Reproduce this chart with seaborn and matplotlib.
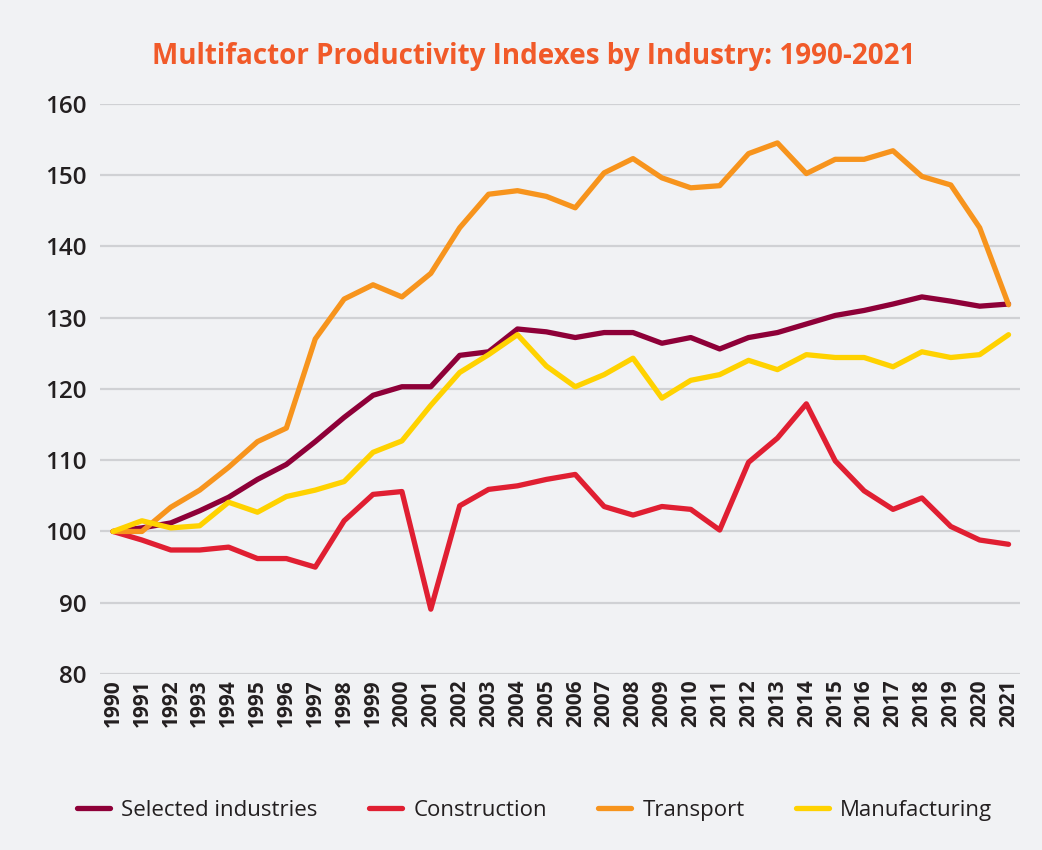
import pandas as pd
import matplotlib
matplotlib.use('Agg')
import matplotlib.pyplot as plt
import seaborn as sns

years = list(range(1990, 2022))

selected = [100, 100.5, 101.2, 102.9, 104.8, 107.3, 109.4, 112.6, 116.0, 119.1,
            120.3, 120.3, 124.7, 125.2, 128.4, 128.0, 127.2, 127.9, 127.9, 126.4,
            127.2, 125.6, 127.2, 127.9, 129.1, 130.3, 131.0, 131.9, 132.9, 132.3,
            131.6, 131.9]
construction = [100, 98.8, 97.4, 97.4, 97.8, 96.2, 96.2, 95.0, 101.5, 105.2,
                105.6, 89.1, 103.6, 105.9, 106.4, 107.3, 108.0, 103.5, 102.3, 103.5,
                103.1, 100.2, 109.7, 113.1, 117.9, 109.9, 105.7, 103.1, 104.7, 100.7,
                98.8, 98.2]
transport = [100, 100, 103.4, 105.8, 109.0, 112.6, 114.5, 127.0, 132.6, 134.6,
             132.9, 136.2, 142.6, 147.3, 147.8, 147.0, 145.4, 150.3, 152.3, 149.6,
             148.2, 148.5, 153.0, 154.5, 150.2, 152.2, 152.2, 153.4, 149.8, 148.6,
             142.6, 131.8]
manufacturing = [100, 101.5, 100.5, 100.8, 104.1, 102.7, 104.9, 105.8, 107.0, 111.1,
                 112.7, 117.7, 122.3, 124.8, 127.6, 123.2, 120.3, 122.0, 124.3, 118.7,
                 121.2, 122.0, 124.0, 122.7, 124.8, 124.4, 124.4, 123.1, 125.2, 124.4,
                 124.8, 127.6]

series_names = ['Selected industries', 'Construction', 'Transport', 'Manufacturing']
colors = ['#8E0038', '#E01F32', '#F7941D', '#FFD200']

df = pd.DataFrame({'Year': years,
                   'Selected industries': selected,
                   'Construction': construction,
                   'Transport': transport,
                   'Manufacturing': manufacturing})
long = df.melt(id_vars='Year', var_name='Series', value_name='Index')

sns.set_style('white')
plt.rcParams['font.family'] = ['Open Sans', 'DejaVu Sans']
bg = '#F1F2F4'
text_col = '#231F20'

fig = plt.figure(figsize=(10.42, 8.5), dpi=100, facecolor=bg)
ax = fig.add_axes([0.096, 0.207, 0.883, 0.671])
ax.set_facecolor(bg)

sns.lineplot(data=long, x='Year', y='Index', hue='Series', hue_order=series_names,
             palette=colors, linewidth=3.8, ax=ax, legend=True)

ax.set_xlim(1989.55, 2021.4)
ax.set_ylim(80, 160)
ax.set_yticks(range(80, 161, 10))
ax.set_xticks(years)
ax.set_xticklabels([str(y) for y in years], rotation=90, fontsize=15,
                   fontweight='bold', color=text_col)
ax.tick_params(axis='y', labelsize=17.5, labelcolor=text_col, length=0, pad=10)
ax.tick_params(axis='x', length=0, pad=4)
for lbl in ax.get_yticklabels():
    lbl.set_fontweight('semibold')
ax.yaxis.grid(True, color='#D0D1D4', linewidth=1.6)
ax.xaxis.grid(False)
ax.set_axisbelow(True)
for s in ax.spines.values():
    s.set_visible(False)
ax.set_xlabel('')
ax.set_ylabel('')

fig.text(0.512, 0.933, 'Multifactor Productivity Indexes by Industry: 1990-2021',
         ha='center', va='center', fontsize=20, fontweight='bold', color='#F15A29')

handles, labels = ax.get_legend_handles_labels()
ax.legend_.remove()
fig.legend(handles, labels, loc='center', bbox_to_anchor=(0.513, 0.047), ncol=4,
           frameon=False, handlelength=1.5, columnspacing=2.3,
           handletextpad=0.5, labelcolor=text_col, fontsize=16)

fig.savefig('out.png', dpi=100, facecolor=bg)
